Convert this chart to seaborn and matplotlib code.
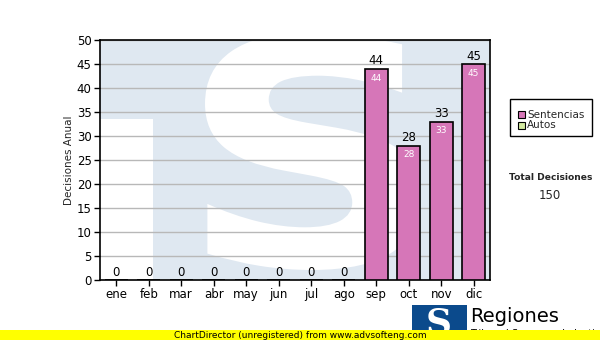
import matplotlib
matplotlib.use("Agg")
import matplotlib.pyplot as plt
import seaborn as sns
import pandas as pd
import numpy as np
from matplotlib.patches import Rectangle, PathPatch
from matplotlib.textpath import TextPath
from matplotlib.font_manager import FontProperties
from matplotlib.transforms import Affine2D

months = ["ene", "feb", "mar", "abr", "may", "jun", "jul", "ago", "sep", "oct", "nov", "dic"]
sentencias = [0, 0, 0, 0, 0, 0, 0, 0, 44, 28, 33, 45]
autos = [0, 0, 0, 0, 0, 0, 0, 0, 0, 0, 0, 0]
total = 150

sns.set_theme(style="white")
plt.rcParams['font.family'] = ['DejaVu Sans']

df = pd.DataFrame({"mes": months, "Sentencias": sentencias})

fig = plt.figure(figsize=(6, 3.4), dpi=100)
ax = fig.add_axes([100/600, 1-280/340, 390/600, 240/340])
ax.set_facecolor("#dfe8f1")

# watermark (white logo shapes on light blue)
ax.add_patch(Rectangle((0, 0), 53/390, 161/240, transform=ax.transAxes,
                       facecolor="white", edgecolor="none", zorder=0))
tp = TextPath((0, 0), "S", size=1, prop=FontProperties(family="DejaVu Sans", weight="bold"))
ext = tp.get_extents()
x0, x1 = (205-100)/390, (420-100)/390
y0, y1 = (280-270)/240, (280-33)/240
tr = Affine2D().translate(-ext.x0, -ext.y0).scale((x1-x0)/ext.width, (y1-y0)/ext.height).translate(x0, y0)
spatch = PathPatch(tr.transform_path(tp), transform=ax.transAxes, facecolor="white",
                   edgecolor="none", zorder=0)
ax.add_patch(spatch)
spatch.set_clip_path(ax.patch)

sns.barplot(data=df, x="mes", y="Sentencias", color="#d676b8", width=0.71,
            edgecolor="black", linewidth=1.2, saturation=1, ax=ax, zorder=3)

ax.set_ylim(0, 50)
ax.set_xlim(-0.5, 11.5)
ax.set_yticks(range(0, 51, 5))
ax.yaxis.grid(True, color="#b8b8b8", linewidth=1, zorder=1)
ax.set_axisbelow(True)
for s in ax.spines.values():
    s.set_color("black")
    s.set_linewidth(1.2)
    s.set_visible(True)
ax.tick_params(axis="both", which="both", direction="out", length=4, width=1,
               color="black", labelsize=8.5, labelcolor="black", pad=2,
               left=True, bottom=True)
ax.set_xlabel("")
ax.set_ylabel("Decisiones Anual", fontsize=7.5, labelpad=2)

for i, v in enumerate(sentencias):
    ax.text(i, v + 0.3, str(v), ha="center", va="bottom", fontsize=8.5, color="black", zorder=5)
    if v > 0:
        ax.text(i, v - 1.0, str(v), ha="center", va="top", fontsize=6.5, color="white", zorder=5)

# legend box
fig.patches.append(Rectangle((510/600, 1-136/340), 82/600, 37/340, transform=fig.transFigure,
                             facecolor="white", edgecolor="black", linewidth=1))
fig.patches.append(Rectangle((518/600, 1-118/340), 7/600, 7/340, transform=fig.transFigure,
                             facecolor="#d676b8", edgecolor="black", linewidth=0.8))
fig.patches.append(Rectangle((518/600, 1-129/340), 7/600, 7/340, transform=fig.transFigure,
                             facecolor="#d3eaa0", edgecolor="black", linewidth=0.8))
fig.text(527/600, 1-114.5/340, "Sentencias", fontsize=7.5, va="center", ha="left")
fig.text(527/600, 1-125.5/340, "Autos", fontsize=7.5, va="center", ha="left")

fig.text(551/600, 1-177/340, "Total Decisiones", fontsize=6.6, fontweight="bold", ha="center", va="center")
fig.text(550/600, 1-196/340, str(total), fontsize=8.5, ha="center", va="center")

# footer logo
fig.patches.append(Rectangle((412/600, 0), 55/600, 35/340, transform=fig.transFigure,
                             facecolor="#0b4a8c", edgecolor="none"))
fig.text(439/600, 17/340, "S", fontsize=26, fontweight="bold", color="white",
         ha="center", va="center", family="DejaVu Serif")
fig.text(470/600, 1-316/340, "Regiones", fontsize=14, ha="left", va="center", color="black")
fig.text(470/600, 1-334/340, "Tribunal Supremo de Justicia", fontsize=7, ha="left", va="center", color="black")

# yellow bar
fig.patches.append(Rectangle((0, 0), 1, 10/340, transform=fig.transFigure,
                             facecolor="#ffff00", edgecolor="none", zorder=10))
fig.text(0.5, 5/340, "ChartDirector (unregistered) from www.advsofteng.com", fontsize=6.5,
         ha="center", va="center", color="black", zorder=11)

fig.savefig("out.png", dpi=100)
